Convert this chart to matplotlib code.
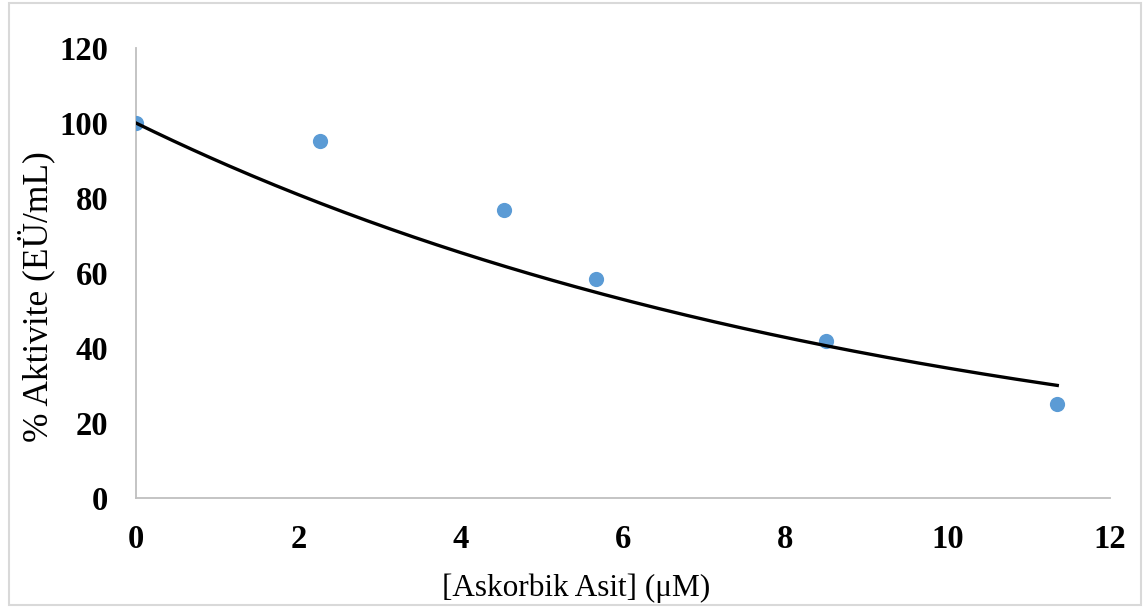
import numpy as np
import matplotlib
matplotlib.use('Agg')
import matplotlib.pyplot as plt
from matplotlib.patches import Rectangle

plt.rcParams['font.family'] = 'Liberation Serif'

# Ascorbic acid concentration (uM) vs. remaining activity (%)
conc = [0.0, 2.27, 4.53, 5.67, 8.50, 11.35]
activity = [100.0, 95.2, 76.8, 58.4, 41.9, 25.1]

x_ticks = [0, 2, 4, 6, 8, 10, 12]
y_ticks = [0, 20, 40, 60, 80, 100, 120]

POINT_COLOR = '#5B9BD5'
AXIS_COLOR = '#BFBFBF'

# exponential trendline with intercept fixed at 100 (y = 100 * exp(-k x))
xa = np.array(conc)
ya = np.array(activity)
k = -np.sum(xa * np.log(ya / 100.0)) / np.sum(xa ** 2)
x_fit = np.linspace(xa.min(), xa.max(), 200)
y_fit = 100.0 * np.exp(-k * x_fit)

fig = plt.figure(figsize=(11.44, 6.08), dpi=100, facecolor='white')
ax = fig.add_axes([0.1189, 0.1809, 0.8514, 0.7401])

ax.scatter(conc, activity, s=120, color=POINT_COLOR, zorder=3, linewidths=0)
ax.plot(x_fit, y_fit, color='black', linewidth=2.4, zorder=4)

ax.set_xlim(0, 12)
ax.set_ylim(0, 120)
ax.set_xticks(x_ticks)
ax.set_yticks(y_ticks)
ax.tick_params(length=0, labelsize=23.5)
ax.tick_params(axis='x', pad=19)
ax.tick_params(axis='y', pad=20)
for lbl in ax.get_xticklabels() + ax.get_yticklabels():
    lbl.set_fontweight('bold')

for spine in ['top', 'right']:
    ax.spines[spine].set_visible(False)
for spine in ['left', 'bottom']:
    ax.spines[spine].set_color(AXIS_COLOR)
    ax.spines[spine].set_linewidth(1.3)

# axis titles placed in figure coordinates
fig.text(0.5035, 0.033, '[Askorbik Asit] (μM)', fontsize=22.5,
         ha='center', va='center')
fig.text(0.0315, 0.5115, '% Aktivite (EÜ/mL)', fontsize=25.5,
         ha='center', va='center', rotation=90)

# light chart-area border
fig.patches.append(Rectangle((9 / 1144, 3 / 608), 1132 / 1144, 602 / 608,
                             transform=fig.transFigure, fill=False,
                             edgecolor='#D9D9D9', linewidth=1.5))

fig.savefig('out.png', dpi=100, facecolor='white')
